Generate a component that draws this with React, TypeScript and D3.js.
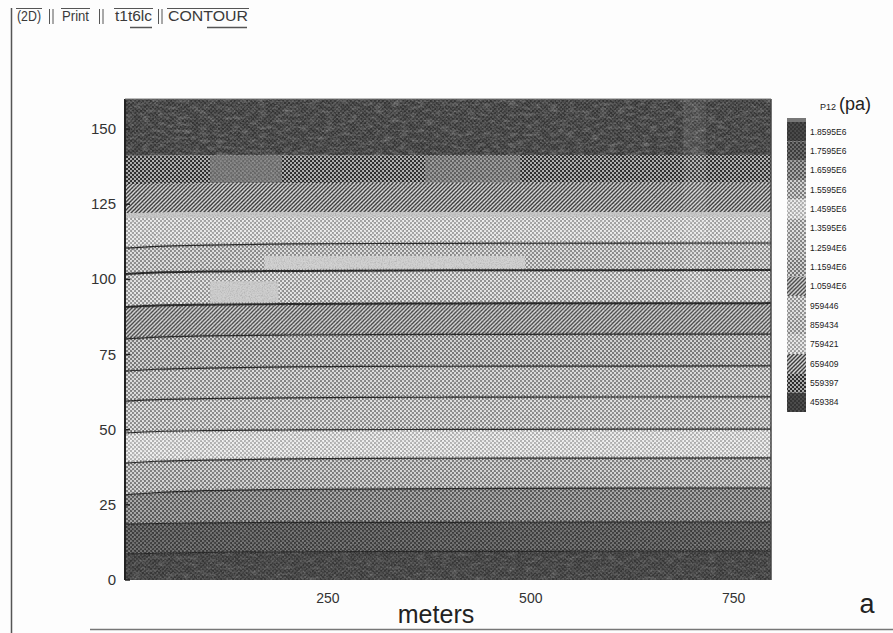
import React from "react";
import * as d3 from "d3";

const WIDTH = 893;
const HEIGHT = 633;

// P12 contour levels (Pa) as listed in the legend, top entry first
const legendLabels = [
  "1.8595E6", "1.7595E6", "1.6595E6", "1.5595E6", "1.4595E6",
  "1.3595E6", "1.2594E6", "1.1594E6", "1.0594E6", "959446",
  "859434", "759421", "659409", "559397", "459384",
];

// Horizontal positions (m) where the contour heights are sampled
const xStations = [0, 40, 100, 200, 400, 796];

// Height (m) of each contour line at the stations, deepest line first
const contourHeights = [
  [8.6, 8.9, 9.2, 9.4, 9.5, 9.6],
  [18.6, 18.8, 19.0, 19.2, 19.2, 19.3],
  [28.3, 29.1, 29.7, 30.1, 30.4, 30.6],
  [38.9, 39.5, 39.9, 40.3, 40.5, 40.6],
  [48.9, 49.4, 49.7, 49.9, 50.1, 50.2],
  [59.5, 60.0, 60.3, 60.6, 60.8, 60.9],
  [69.5, 70.1, 70.5, 70.9, 71.1, 71.2],
  [80.2, 80.8, 81.2, 81.5, 81.7, 81.8],
  [90.8, 91.3, 91.6, 91.8, 92.0, 92.1],
  [101.8, 102.3, 102.6, 102.8, 103.0, 103.1],
  [110.4, 111.0, 111.4, 111.8, 112.0, 112.1],
  [122.1, 122.2, 122.3, 122.3, 122.4, 122.4],
  [131.7, 131.8, 131.9, 132.0, 132.1, 132.1],
  [141.1, 141.2, 141.3, 141.3, 141.4, 141.4],
];

const xDomain = [0, 796];
const yDomain = [0, 160];
const xTicks = [250, 500, 750];
const yTicks = [0, 25, 50, 75, 100, 125, 150];

// Blotched patches in the printed field: [x0, x1, z0, z1] in metres
const patches = [
  { box: [172, 493, 102.6, 107.8], fill: "#cfcfcf", opacity: 1 },
  { box: [105, 189, 91.4, 99.4], fill: "#cccccc", opacity: 1 },
  { box: [105, 193, 132.2, 141.2], fill: "#7a7a7a", opacity: 0.8 },
  { box: [370, 487, 132.2, 141.2], fill: "#8a8a8a", opacity: 0.55 },
  { box: [688, 716, 92, 160], fill: "#ffffff", opacity: 0.08 },
];

const toolbarItems = [
  { label: "(2D)", x: 17, w: 24 },
  { label: "Print", x: 62, w: 27 },
  { label: "t1t6lc", x: 115, w: 37 },
  { label: "CONTOUR", x: 168, w: 80 },
];

// Shading for each band, bottom band (highest pressure) first
const bandStyles = [
  { kind: "dot", bg: "#383838", fg: "#4c4c4c" },
  { kind: "dot", bg: "#707070", fg: "#3e3e3e" },
  { kind: "dot", bg: "#a8a8a8", fg: "#5a5a5a" },
  { kind: "dot", bg: "#d6d6d6", fg: "#808080" },
  { kind: "dot", bg: "#f0f0f0", fg: "#b6b6b6" },
  { kind: "dot", bg: "#e2e2e2", fg: "#8e8e8e" },
  { kind: "dot", bg: "#dedede", fg: "#888888" },
  { kind: "dot", bg: "#d6d6d6", fg: "#7a7a7a" },
  { kind: "hatch", bg: "#d4d4d4", fg: "#505050" },
  { kind: "dot", bg: "#e6e6e6", fg: "#959595" },
  { kind: "dot", bg: "#e0e0e0", fg: "#8e8e8e" },
  { kind: "dot", bg: "#ececec", fg: "#a6a6a6" },
  { kind: "hatch", bg: "#d8d8d8", fg: "#3e3e3e" },
  { kind: "dot", bg: "#2e2e2e", fg: "#b0b0b0" },
  { kind: "dot", bg: "#363636", fg: "#4e4e4e" },
];

const plot = { left: 125, right: 771, top: 99, bottom: 580 };

const x = d3.scaleLinear().domain(xDomain).range([plot.left, plot.right]);
const y = d3.scaleLinear().domain(yDomain).range([plot.bottom, plot.top]);

const FONT = "'Liberation Sans', Arial, Helvetica, sans-serif";

function Pattern({ id, style }: { id: string; style: { kind: string; bg: string; fg: string } }) {
  if (style.kind === "hatch") {
    return (
      <pattern id={id} width={4} height={4} patternUnits="userSpaceOnUse">
        <rect width={4} height={4} fill={style.bg} />
        <path d="M-1,1 L1,-1 M0,4 L4,0 M3,5 L5,3" stroke={style.fg} strokeWidth={1.4} />
      </pattern>
    );
  }
  return (
    <pattern id={id} width={4} height={4} patternUnits="userSpaceOnUse">
      <rect width={4} height={4} fill={style.bg} />
      <rect x={0} y={0} width={2} height={2} fill={style.fg} />
      <rect x={2} y={2} width={2} height={2} fill={style.fg} />
    </pattern>
  );
}

export default function App() {
  const nBands = contourHeights.length + 1;
  const zeros = xStations.map(() => yDomain[0]);
  const tops = xStations.map(() => yDomain[1]);

  const bands = d3.range(nBands).map((i) => {
    const lower = i === 0 ? zeros : contourHeights[i - 1];
    const upper = i === nBands - 1 ? tops : contourHeights[i];
    const area = d3
      .area<number>()
      .x((_, j) => x(xStations[j]))
      .y0((_, j) => y(lower[j]))
      .y1((_, j) => y(upper[j]))
      .curve(d3.curveMonotoneX);
    return area(xStations) as string;
  });

  const line = (hs: number[]) =>
    d3
      .line<number>()
      .x((_, j) => x(xStations[j]))
      .y((_, j) => y(hs[j]))
      .curve(d3.curveMonotoneX)(xStations) as string;

  const legend = { x: 787, y: 122, w: 19, h: 290 };
  const legendStep = legend.h / legendLabels.length;
  const plotRect = {
    x: plot.left,
    y: plot.top,
    width: plot.right - plot.left,
    height: plot.bottom - plot.top,
  };

  return (
    <svg width={WIDTH} height={HEIGHT} style={{ display: "block", position: "absolute", left: 0, top: 0, background: "#fdfdfd" }}>
      <defs>
        {bandStyles.map((s, i) => (
          <Pattern key={i} id={`band-${i}`} style={s} />
        ))}
        <clipPath id="plot-clip">
          <rect {...plotRect} />
        </clipPath>
        <filter id="grain-dark" x="0" y="0" width="100%" height="100%">
          <feTurbulence type="fractalNoise" baseFrequency="0.85" numOctaves={2} seed={4} />
          <feColorMatrix type="matrix" values="0 0 0 0 0  0 0 0 0 0  0 0 0 0 0  2.6 0 0 0 -1.15" />
        </filter>
        <filter id="grain-light" x="0" y="0" width="100%" height="100%">
          <feTurbulence type="fractalNoise" baseFrequency="0.7" numOctaves={2} seed={11} />
          <feColorMatrix type="matrix" values="0 0 0 0 1  0 0 0 0 1  0 0 0 0 1  2.6 0 0 0 -1.2" />
        </filter>
        <filter id="mottle" x="0" y="0" width="100%" height="100%">
          <feTurbulence type="fractalNoise" baseFrequency="0.12 0.3" numOctaves={3} seed={7} />
          <feColorMatrix type="matrix" values="0 0 0 0 0.55  0 0 0 0 0.55  0 0 0 0 0.55  2.2 0 0 0 -0.95" />
        </filter>
        <clipPath id="top-band">
          <path d={bands[nBands - 1]} />
        </clipPath>
        <clipPath id="bottom-band">
          <path d={bands[0]} />
        </clipPath>
      </defs>

      {/* window toolbar */}
      <g fontFamily={FONT} fontSize={14} fill="#3a3a3a">
        {toolbarItems.map((t) => (
          <text key={t.label} x={t.x} y={21} textLength={t.w} lengthAdjust="spacingAndGlyphs">{t.label}</text>
        ))}
      </g>
      <g stroke="#555" strokeWidth={1}>
        {toolbarItems.map((t) => (
          <line key={t.label} x1={t.x - 1} x2={t.x + t.w + 1} y1={8.5} y2={8.5} />
        ))}
        {[49.5, 53, 99.5, 103, 158.5, 162].map((px) => (
          <line key={px} x1={px} x2={px} y1={9} y2={24} />
        ))}
        <line x1={130} x2={152} y1={27.5} y2={27.5} strokeWidth={1.5} />
        <line x1={207} x2={247} y1={27.5} y2={27.5} strokeWidth={1.5} />
      </g>
      {/* window frame */}
      <line x1={11.5} x2={11.5} y1={8} y2={HEIGHT} stroke="#555" strokeWidth={1.5} />
      <line x1={90} x2={WIDTH} y1={629.5} y2={629.5} stroke="#777" strokeWidth={1.5} />

      {/* filled contour bands */}
      <g clipPath="url(#plot-clip)">
        {bands.map((d, i) => (
          <path key={i} d={d} fill={`url(#band-${i})`} />
        ))}
        <rect {...plotRect} filter="url(#mottle)" opacity={0.35} clipPath="url(#top-band)" />
        <rect {...plotRect} filter="url(#mottle)" opacity={0.25} clipPath="url(#bottom-band)" />
        {patches.map((p, i) => (
          <rect
            key={i}
            x={x(p.box[0])}
            width={x(p.box[1]) - x(p.box[0])}
            y={y(p.box[3])}
            height={y(p.box[2]) - y(p.box[3])}
            fill={p.fill}
            opacity={p.opacity}
          />
        ))}

        {/* contour lines */}
        {contourHeights.map((hs, i) => {
          if (i >= 12) return null;
          if (i === 11) {
            return <path key={i} d={line(hs)} transform="translate(0,2.5)" fill="none" stroke="#c6c6c6" strokeWidth={5} />;
          }
          const heavy = i === 8 || i === 9;
          return (
            <g key={i}>
              <path d={line(hs)} fill="none" stroke="#262626" strokeWidth={heavy ? 2 : 1.2} />
              <path d={line(hs)} fill="none" stroke="#2a2a2a" strokeWidth={4} strokeDasharray="1 2" opacity={0.4} />
            </g>
          );
        })}

        <rect {...plotRect} filter="url(#grain-dark)" opacity={0.12} />
        <rect {...plotRect} filter="url(#grain-light)" opacity={0.15} />
      </g>

      {/* plot frame */}
      <line x1={plot.left} x2={plot.left} y1={plot.top} y2={plot.bottom} stroke="#222" strokeWidth={2} />
      <line x1={plot.right} x2={plot.right} y1={plot.top} y2={plot.bottom} stroke="#444" strokeWidth={1.5} />
      <line x1={plot.left} x2={plot.right} y1={plot.top} y2={plot.top} stroke="#777" strokeWidth={1} />

      {/* y axis */}
      <g fontFamily={FONT} fontSize={15} fill="#333" textAnchor="end">
        {yTicks.map((t) => (
          <g key={t}>
            <line x1={plot.left} x2={plot.left + 5} y1={y(t)} y2={y(t)} stroke="#222" strokeWidth={1.5} />
            <text x={116} y={y(t) + 5}>{t}</text>
          </g>
        ))}
      </g>

      {/* x axis */}
      <g fontFamily={FONT} fontSize={14} fill="#333" textAnchor="middle">
        {xTicks.map((t) => (
          <text key={t} x={x(t)} y={603}>{t}</text>
        ))}
      </g>
      <text x={436} y={623} fontFamily={FONT} fontSize={25} fill="#222" textAnchor="middle">meters</text>
      <text x={867} y={613} fontFamily={FONT} fontSize={27} fill="#222" textAnchor="middle">a</text>

      {/* legend */}
      <text x={820} y={110} fontFamily={FONT} fill="#222">
        <tspan fontSize={9}>P12</tspan>
        <tspan fontSize={18} dx={3}>(pa)</tspan>
      </text>
      <rect x={legend.x} y={legend.y - 4} width={legend.w} height={4} fill="#777" />
      {legendLabels.map((lab, i) => (
        <g key={lab}>
          <rect x={legend.x} y={legend.y + i * legendStep} width={legend.w} height={legendStep} fill={`url(#band-${i})`} />
          <text x={810} y={legend.y + i * legendStep + legendStep / 2 + 3} fontFamily={FONT} fontSize={8.5} fill="#222">
            {lab}
          </text>
        </g>
      ))}
      <rect x={legend.x} y={legend.y} width={legend.w} height={legend.h} filter="url(#grain-dark)" opacity={0.15} />
    </svg>
  );
}
